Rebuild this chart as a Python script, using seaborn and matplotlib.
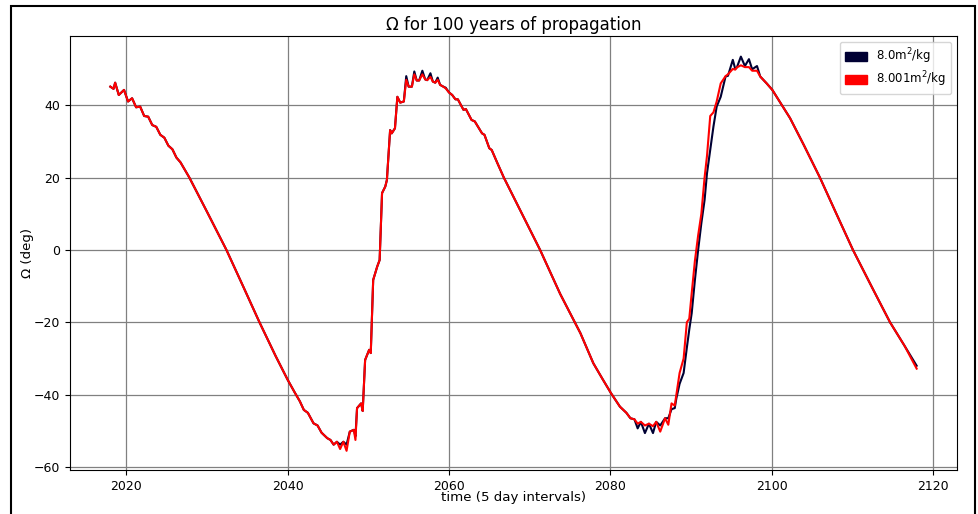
import matplotlib
matplotlib.use("Agg")
import matplotlib.pyplot as plt
import numpy as np
import seaborn as sns
from matplotlib.patches import Patch, Rectangle

# sample times (years) and Omega (deg)
years = [
    2018.0, 2018.4, 2018.6, 2019.05, 2019.7, 2020.2, 2020.7, 2021.2, 2021.7, 2022.2,
    2022.7, 2023.2, 2023.7, 2024.2, 2024.7, 2025.2, 2025.7, 2026.2, 2026.7, 2027.8,
    2030.0, 2032.4, 2034.5, 2036.5, 2038.5, 2040.0, 2040.9, 2041.5, 2042.0, 2042.5,
    2043.2, 2043.7, 2044.2, 2044.9, 2045.3, 2045.7, 2046.1, 2046.5, 2046.9, 2047.3,
    2047.7, 2048.2, 2048.4, 2048.6, 2049.1, 2049.3, 2049.6, 2050.1, 2050.3, 2050.6,
    2051.1, 2051.4, 2051.7, 2052.1, 2052.3, 2052.7, 2052.9, 2053.3, 2053.6, 2053.95,
    2054.4, 2054.7, 2055.0, 2055.4, 2055.7, 2056.0, 2056.3, 2056.7, 2057.05, 2057.3,
    2057.7, 2058.0, 2058.3, 2058.6, 2058.9, 2059.3, 2059.6, 2060.0, 2060.4, 2060.8,
    2061.1, 2061.8, 2062.1, 2062.8, 2063.2, 2064.1, 2064.4, 2065.0, 2065.3, 2066.0,
    2066.8, 2069.0, 2071.3, 2073.8, 2076.3, 2077.9, 2079.0, 2080.1, 2081.2, 2082.0,
    2082.5, 2083.0, 2083.4, 2083.8, 2084.3, 2084.8, 2085.3, 2085.7, 2086.2, 2086.8,
    2087.2, 2087.6, 2088.0, 2088.2, 2088.6, 2089.1, 2089.5, 2089.8, 2090.1, 2090.5,
    2090.9, 2091.3, 2091.7, 2092.0, 2092.4, 2092.8, 2093.2, 2093.7, 2094.3, 2094.6,
    2095.2, 2095.5, 2095.7, 2096.2, 2096.7, 2097.2, 2097.6, 2098.2, 2098.6, 2099.4,
    2100.1, 2101.0, 2102.3, 2104.0, 2106.0, 2108.0, 2110.1, 2112.5, 2114.7, 2116.5,
    2118.0,
]

omega_80 = [
    45.1, 44.5, 46.2, 42.8, 44.2, 41.0, 41.9, 39.4, 39.6, 37.0,
    36.8, 34.5, 34.0, 31.8, 31.0, 28.8, 27.8, 25.5, 24.2, 20.0,
    10.5, 0.0, -10.2, -20.0, -29.3, -35.9, -39.5, -41.8, -44.2, -45.0,
    -47.9, -48.5, -50.5, -52.0, -52.5, -53.8, -53.0, -53.8, -53.0, -53.8,
    -50.2, -49.7, -51.5, -43.7, -42.4, -44.5, -30.4, -27.6, -28.5, -8.3,
    -4.6, -2.8, 15.7, 17.5, 19.3, 33.1, 32.2, 33.6, 42.3, 40.7,
    41.0, 48.0, 45.1, 45.1, 49.3, 46.8, 46.8, 49.5, 47.1, 46.9,
    48.8, 46.5, 46.2, 47.6, 45.6, 45.1, 44.8, 43.5, 42.8, 41.6,
    41.6, 38.7, 38.9, 35.9, 35.5, 32.2, 31.8, 28.1, 27.6, 24.0,
    20.0, 10.2, 0.0, -12.2, -23.0, -31.3, -35.5, -39.6, -43.3, -45.0,
    -46.5, -46.8, -49.3, -47.5, -50.6, -48.0, -50.6, -47.5, -48.5, -46.5,
    -46.5, -44.0, -43.7, -41.0, -37.0, -34.0, -27.0, -22.0, -17.5, -8.3,
    0.0, 7.4, 13.8, 21.2, 27.6, 34.1, 39.6, 42.3, 47.9, 48.1,
    52.5, 50.0, 50.4, 53.4, 50.8, 52.7, 49.9, 50.8, 47.9, 46.0,
    44.2, 41.0, 36.4, 29.0, 20.0, 10.2, 0.0, -10.5, -20.0, -26.5,
    -32.0,
]

omega_8001 = [
    45.1, 44.5, 46.2, 42.8, 44.2, 41.0, 41.9, 39.4, 39.6, 37.0,
    36.8, 34.5, 34.0, 31.8, 31.0, 28.8, 27.8, 25.5, 24.2, 20.0,
    10.5, 0.0, -10.2, -20.0, -29.3, -35.9, -39.5, -41.8, -44.2, -45.0,
    -47.9, -48.5, -50.5, -52.0, -52.5, -53.8, -53.0, -55.0, -53.0, -55.5,
    -50.2, -49.7, -52.5, -43.7, -42.4, -44.5, -30.4, -27.6, -28.5, -8.3,
    -4.6, -2.8, 15.7, 17.5, 19.3, 33.1, 32.2, 33.6, 42.3, 40.7,
    41.0, 47.0, 45.1, 45.1, 48.5, 46.8, 46.8, 48.5, 47.1, 46.9,
    47.8, 46.5, 46.2, 47.0, 45.6, 45.1, 44.6, 43.5, 42.8, 41.6,
    41.6, 38.7, 38.9, 35.9, 35.5, 32.2, 31.8, 28.1, 27.6, 24.0,
    20.0, 10.2, 0.0, -12.2, -23.0, -31.3, -35.5, -39.6, -43.3, -45.0,
    -46.5, -46.8, -48.0, -47.5, -48.5, -48.0, -48.7, -47.5, -50.2, -46.5,
    -48.3, -42.4, -43.0, -40.0, -34.0, -30.0, -20.0, -19.0, -12.0, -3.0,
    4.0, 10.0, 20.0, 26.0, 37.0, 38.0, 41.0, 46.0, 48.0, 48.5,
    50.0, 49.8, 50.4, 51.0, 50.5, 50.5, 49.5, 49.5, 47.9, 46.0,
    44.2, 41.0, 36.4, 29.0, 20.0, 10.2, 0.0, -10.5, -20.0, -26.5,
    -32.8,
]

labels = ["8.0m$^2$/kg", "8.001m$^2$/kg"]
colors = ["#000033", "#ff0000"]

fig = plt.figure(figsize=(9.79, 5.14), dpi=100)
ax = fig.add_axes([0.0715, 0.0856, 0.906, 0.8444])

sns.lineplot(x=years, y=omega_80, color=colors[0], linewidth=1.5, ax=ax)
sns.lineplot(x=years, y=omega_8001, color=colors[1], linewidth=1.5, ax=ax)

ax.set_xlim(2013.0, 2123.0)
ax.set_ylim(-60.8, 59.1)
ax.set_xticks([2020, 2040, 2060, 2080, 2100, 2120])
ax.set_yticks([-60, -40, -20, 0, 20, 40])
ax.grid(True, color="#808080", linewidth=0.9)
ax.set_axisbelow(True)
ax.tick_params(labelsize=9)

ax.set_title("Ω for 100 years of propagation", fontsize=12, pad=4)
ax.set_xlabel("time (5 day intervals)", fontsize=9.6, labelpad=-1)
ax.set_ylabel("Ω (deg)", fontsize=9.6, labelpad=0)

handles = [Patch(facecolor=c, edgecolor=c) for c in colors]
ax.legend(handles, labels, loc="upper right", fontsize=8.5,
          labelspacing=0.3, handlelength=1.9)

# black frame around the figure
fig.patches.append(Rectangle((11 / 979, -0.02), 964 / 979, 1 - 6 / 514 + 0.02,
                             transform=fig.transFigure, fill=False,
                             edgecolor="black", linewidth=1.5))

fig.savefig("out.png", dpi=100)
